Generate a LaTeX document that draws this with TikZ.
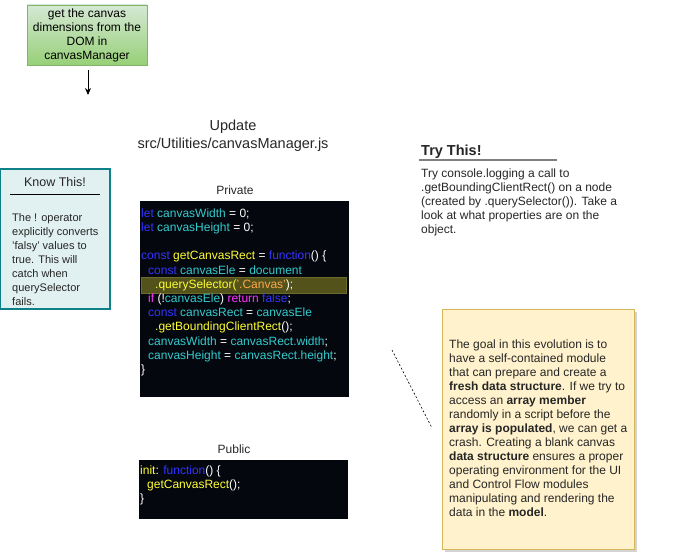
\documentclass[tikz,border=0pt]{standalone}
\usepackage{fontspec}
\setmainfont{Liberation Sans}
\usetikzlibrary{arrows.meta}
\usetikzlibrary{positioning}
\usetikzlibrary{shadows}

\definecolor{kwblue}{HTML}{3333FF}
\definecolor{idcyan}{HTML}{33CCCC}
\definecolor{fnyellow}{HTML}{FFFF33}
\definecolor{strorange}{HTML}{FFA64D}
\definecolor{mgpink}{HTML}{FF33FF}
\definecolor{codebg}{HTML}{05070F}
\definecolor{hlfill}{HTML}{52521A}
\definecolor{hldraw}{HTML}{6B6B2E}
\definecolor{greentop}{HTML}{D5E8D4}
\definecolor{greenbot}{HTML}{97D077}
\definecolor{greenline}{HTML}{82B366}
\definecolor{tealfill}{HTML}{E1F0F0}
\definecolor{tealline}{HTML}{0E8088}
\definecolor{notefill}{HTML}{FFF2CC}
\definecolor{noteline}{HTML}{D6B656}

\newcommand{\jskw}[1]{\textcolor{kwblue}{#1}}
\newcommand{\jsid}[1]{\textcolor{idcyan}{#1}}
\newcommand{\jsfn}[1]{\textcolor{fnyellow}{#1}}
\newcommand{\jsstr}[1]{\textcolor{strorange}{#1}}
\newcommand{\jsmg}[1]{\textcolor{mgpink}{#1}}
\newcommand{\jsin}{\hspace*{7pt}}

\begin{document}
\begin{tikzpicture}[x=1pt,y=-1pt,
    plain text/.style={inner sep=0pt,text=black!85,font=\fontsize{12}{14}\selectfont},
    code box/.style={draw=none,fill=codebg},
    code text/.style={anchor=north west,inner sep=0pt,align=left,text=white,font=\fontsize{12}{14.2}\selectfont}]
  \useasboundingbox (0,0) rectangle (673,553);

  % top step
  \node[draw=greenline,top color=greentop,bottom color=greenbot,minimum width=120pt,minimum height=60pt,
    inner sep=0pt,align=center,font=\fontsize{12}{14}\selectfont] (grab) at (87,35)
    {get the canvas\\dimensions from the\\DOM in\\canvasManager};
  \coordinate (grabend) at (88,95);
  \path[-{Stealth[length=7pt,width=6pt]},line width=0.8pt] ([xshift=1pt,yshift=-5pt]grab.south) edge (grabend);

  \node[plain text,align=center,font=\fontsize{14.5}{18}\selectfont] (title) at (233,136)
    {Update\\src/Utilities/canvasManager.js};

  % know this
  \node[draw=tealline,line width=1.2pt,fill=tealfill,minimum width=110pt,minimum height=140pt,inner sep=0pt] (know) at (55,239) {};
  \node[plain text,font=\fontsize{12.5}{14}\selectfont] (knowtitle) at (55,182) {Know This!};
  \draw[line width=0.8pt] (10,194) -- (100,194);
  \node[plain text,anchor=north west,align=left,font=\fontsize{11}{13.9}\selectfont] (knowbody) at (12,213.5)
    {The ! operator\\explicitly converts\\'falsy' values to\\true. This will\\catch when\\querySelector\\fails.};

  % private code
  \node[plain text] (privlabel) at (235,190) {Private};
  \node[code box,minimum width=209pt,minimum height=196pt,inner sep=0pt] (privcode) at (244.5,299) {};
  \node[draw=hldraw,fill=hlfill,minimum width=205pt,minimum height=16pt,inner sep=0pt] (hl) at (243.5,285) {};
  \node[code text] (privtext) at (141,208.5) {%
    \jskw{let} \jsid{canvasWidth} = 0;\\
    \jskw{let} \jsid{canvasHeight} = 0;\\
    \mbox{}\\
    \jskw{const} \jsfn{getCanvasRect} = \jskw{function}() \{\\
    \jsin\jskw{const} \jsid{canvasEle} = \jsid{document}\\
    \jsin\jsin\jsfn{.querySelector(}\jsstr{'.Canvas'});\\
    \jsin\jsmg{if} (!\jsid{canvasEle}) \jsmg{return} \jskw{false};\\
    \jsin\jskw{const} \jsid{canvasRect} = \jsid{canvasEle}\\
    \jsin\jsin\jsfn{.getBoundingClientRect}();\\
    \jsin\jsid{canvasWidth} = \jsid{canvasRect.width};\\
    \jsin\jsid{canvasHeight} = \jsid{canvasRect.height};\\
    \}};

  % public code
  \node[plain text] (publabel) at (234,449) {Public};
  \node[code box,minimum width=209pt,minimum height=59pt,inner sep=0pt] (pubcode) at (243.5,489.5) {};
  \node[code text] (pubtext) at (140,465.5) {%
    \jsfn{init}: \jskw{function}() \{\\
    \jsin\jsfn{getCanvasRect}();\\
    \}};

  % try this
  \node[plain text,anchor=west,font=\bfseries\fontsize{14.5}{17}\selectfont] (trytitle) at (421,152) {Try This!};
  \draw[line width=1.6pt,gray] (419,160) -- (557,160);
  \node[plain text,anchor=north west,align=left] (trybody) at (421,169)
    {Try console.logging a call to\\.getBoundingClientRect() on a node\\(created by .querySelector()). Take a\\look at what properties are on the\\object.};

  % note
  \node[draw=noteline,fill=notefill,drop shadow={shadow xshift=3pt,shadow yshift=-3pt,opacity=0.35},
    minimum width=192pt,minimum height=240pt,inner sep=0pt] (note) at (538,429) {};
  \node[plain text,anchor=north west,align=left] (notebody) at (449,339.5)
    {The goal in this evolution is to\\have a self-contained module\\that can prepare and create a\\
     \textbf{fresh data structure}. If we try to\\access an \textbf{array member}\\randomly in a script before the\\
     \textbf{array is populated}, we can get a\\crash. Creating a blank canvas\\\textbf{data structure} ensures a proper\\
     operating environment for the UI\\and Control Flow modules\\manipulating and rendering the\\data in the \textbf{model}.};
  \coordinate (dashtop) at (392,350);
  \coordinate (dashbot) at (432,428);
  \path[-,line width=0.6pt,dash pattern=on 2pt off 2pt] (dashtop) edge (dashbot);
\end{tikzpicture}
\end{document}
